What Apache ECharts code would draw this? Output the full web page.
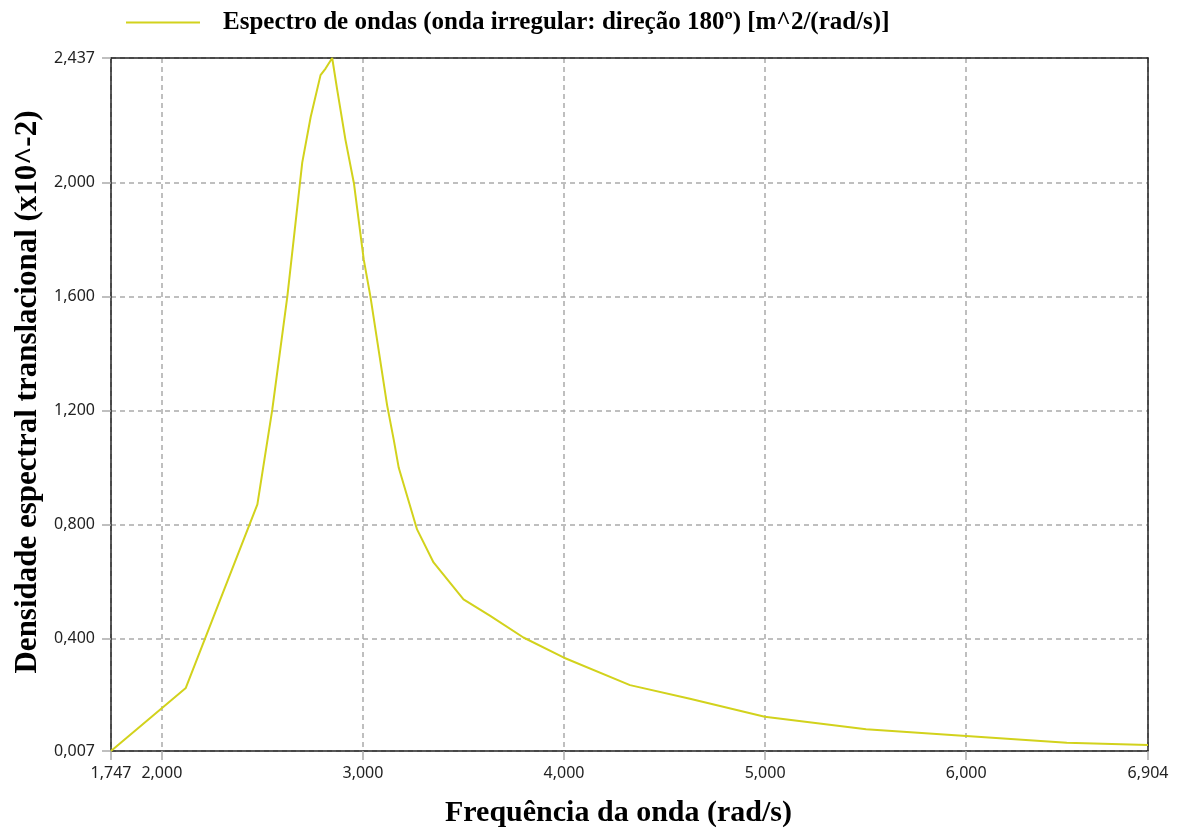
<!DOCTYPE html>
<html>
<head>
<meta charset="utf-8">
<script src="https://cdn.jsdelivr.net/npm/echarts@6/dist/echarts.min.js"></script>
<style>html,body{margin:0;padding:0;background:#fff}#c{width:1178px;height:829px}</style>
</head>
<body>
<div id="c"></div>
<script>
const freq = [1.747, 2.119, 2.475, 2.549, 2.624, 2.698, 2.74, 2.789, 2.814, 2.847, 2.872, 2.913, 2.955, 3.004, 3.037, 3.12, 3.153, 3.178, 3.269, 3.351, 3.50, 3.633, 3.798, 3.997, 4.328, 4.626, 4.998, 5.502, 6.0, 6.5, 6.904];
const density = [0.007, 0.228, 0.872, 1.204, 1.601, 2.07, 2.23, 2.377, 2.40, 2.437, 2.325, 2.15, 1.998, 1.73, 1.601, 1.22, 1.099, 1.0, 0.784, 0.668, 0.539, 0.481, 0.405, 0.335, 0.238, 0.19, 0.127, 0.083, 0.06, 0.036, 0.028];
const xTicks = [1.747, 2, 3, 4, 5, 6, 6.904];
const yTicks = [0.007, 0.4, 0.8, 1.2, 1.6, 2.0, 2.437];
const seriesName = 'Espectro de ondas (onda irregular: direção 180º) [m^2/(rad/s)]';
const xName = 'Frequência da onda (rad/s)';
const yName = 'Densidade espectral translacional (x10^-2)';

const fmt = v => v.toFixed(3).replace('.', ',');
const chart = echarts.init(document.getElementById('c'), null, {renderer: 'canvas'});
const labelStyle = {fontFamily: 'Noto Sans', fontSize: 16, color: '#222'};
const serif = {fontFamily: 'Liberation Serif', fontWeight: 'bold', color: '#000'};
chart.setOption({
  animation: false,
  backgroundColor: '#fff',
  grid: {left: 111, right: 30, top: 58, bottom: 78, containLabel: false, outerBoundsMode: 'none'},
  legend: {
    left: 126, top: 10, padding: 0,
    itemWidth: 74, itemHeight: 2, icon: 'rect',
    textStyle: Object.assign({fontSize: 25, padding: [0, 0, 0, 18]}, serif),
    data: [seriesName]
  },
  xAxis: [{
    type: 'value', min: 1.747, max: 6.904,
    name: xName, nameLocation: 'middle', nameGap: 47,
    nameTextStyle: Object.assign({fontSize: 30, padding: [0, 22, 0, 0]}, serif),
    axisLine: {show: true, onZero: false, lineStyle: {color: '#222', width: 1.5}},
    axisTick: {show: true, length: 9, customValues: xTicks, lineStyle: {color: '#aaa', width: 1.5}},
    axisLabel: {customValues: xTicks, formatter: fmt, margin: 14, ...labelStyle},
    splitLine: {show: true, lineStyle: {color: '#aaa', type: [5, 4], width: 1.5}}
  }, {
    type: 'value', min: 1.747, max: 6.904, position: 'top',
    axisLine: {show: true, lineStyle: {color: '#222', width: 1.5}},
    axisTick: {show: false}, axisLabel: {show: false}, splitLine: {show: false}
  }],
  yAxis: [{
    type: 'value', min: 0.007, max: 2.437,
    name: yName, nameLocation: 'middle', nameGap: 58,
    nameTextStyle: Object.assign({fontSize: 31, padding: [0, 0, 0, 25]}, serif),
    axisLine: {show: true, onZero: false, lineStyle: {color: '#222', width: 1.5}},
    axisTick: {show: true, length: 9, customValues: yTicks, lineStyle: {color: '#aaa', width: 1.5}},
    axisLabel: {customValues: yTicks, formatter: fmt, margin: 16, ...labelStyle},
    splitLine: {show: true, lineStyle: {color: '#aaa', type: [5, 4], width: 1.5}}
  }, {
    type: 'value', min: 0.007, max: 2.437, position: 'right',
    axisLine: {show: true, lineStyle: {color: '#222', width: 1.5}},
    axisTick: {show: false}, axisLabel: {show: false}, splitLine: {show: false}
  }],
  series: [{
    name: seriesName,
    type: 'line',
    symbol: 'none',
    color: '#d2d21c',
    lineStyle: {width: 2, color: '#d2d21c'},
    data: freq.map((f, i) => [f, density[i]])
  }]
});
</script>
</body>
</html>
